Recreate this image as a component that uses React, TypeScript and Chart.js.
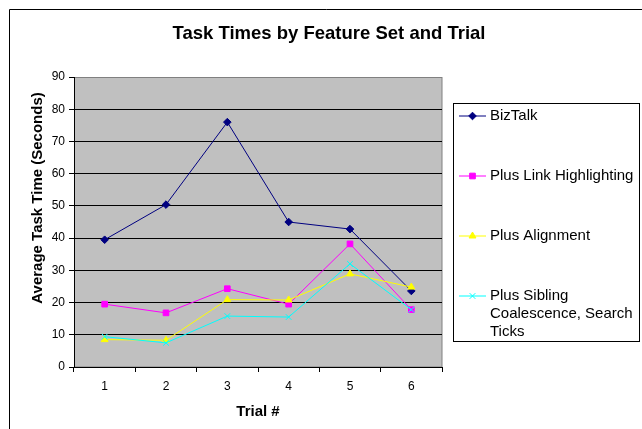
import { useEffect, useRef } from 'react';
import { Chart, registerables } from 'chart.js';
import { drawPoint } from 'chart.js/helpers';

Chart.register(...registerables);

const chartTitle = 'Task Times by Feature Set and Trial';
const yAxisTitle = 'Average Task Time (Seconds)';
const xAxisTitle = 'Trial #';

const trials = ['1', '2', '3', '4', '5', '6'];
const bizTalk = [39.5, 50.4, 76.0, 45.0, 42.8, 23.6];
const linkHighlighting = [19.5, 16.8, 24.3, 19.5, 38.2, 17.8];
const alignment = [8.5, 8.3, 20.9, 20.8, 28.9, 24.8];
const siblingCoalescence = [9.4, 7.5, 15.8, 15.5, 32.0, 17.8];

const seriesNames = [
  'BizTalk',
  'Plus Link Highlighting',
  'Plus Alignment',
  'Plus Sibling Coalescence, Search Ticks',
];
const legendLines = [
  ['BizTalk'],
  ['Plus Link Highlighting'],
  ['Plus Alignment'],
  ['Plus Sibling', 'Coalescence, Search', 'Ticks'],
];

const yMin = 0;
const yMax = 90;
const yStep = 10;

const FONT = '"Liberation Sans", Arial, Helvetica, sans-serif';

const framePlugin = {
  id: 'frame',
  beforeDraw(chart: any) {
    const { ctx, chartArea } = chart;
    ctx.save();
    ctx.fillStyle = '#ffffff';
    ctx.fillRect(0, 0, chart.width, chart.height);
    // outer chart frame
    ctx.strokeStyle = '#000000';
    ctx.lineWidth = 1;
    ctx.beginPath();
    ctx.moveTo(9.5, chart.height + 5);
    ctx.lineTo(9.5, 9.5);
    ctx.lineTo(chart.width + 5, 9.5);
    ctx.stroke();
    // plot area
    ctx.fillStyle = '#c0c0c0';
    ctx.fillRect(chartArea.left, chartArea.top, chartArea.right - chartArea.left, chartArea.bottom - chartArea.top);
    ctx.strokeStyle = '#808080';
    ctx.strokeRect(chartArea.left + 0.5, chartArea.top + 0.5, chartArea.right - chartArea.left - 0.5, chartArea.bottom - chartArea.top - 0.5);
    ctx.restore();
  },
  afterDraw(chart: any) {
    const { ctx } = chart;
    ctx.save();
    ctx.fillStyle = '#000000';
    // chart title
    ctx.font = `bold 18.5px ${FONT}`;
    ctx.textAlign = 'center';
    ctx.textBaseline = 'middle';
    ctx.fillText(chartTitle, 329, 34);
    // y axis title
    ctx.save();
    ctx.translate(38, 198);
    ctx.rotate(-Math.PI / 2);
    ctx.font = `bold 15px ${FONT}`;
    ctx.fillText(yAxisTitle, 0, 0);
    ctx.restore();
    // legend
    const lx = 453.5;
    const ly = 103.5;
    ctx.strokeStyle = '#000000';
    ctx.lineWidth = 1;
    ctx.strokeRect(lx, ly, 186, 238);
    ctx.font = `15px ${FONT}`;
    ctx.textAlign = 'left';
    chart.data.datasets.forEach((ds: any, i: number) => {
      const y = 116 + i * 60;
      ctx.strokeStyle = ds.borderColor;
      ctx.lineWidth = 1;
      ctx.beginPath();
      ctx.moveTo(459, y);
      ctx.lineTo(486, y);
      ctx.stroke();
      ctx.fillStyle = ds.pointBackgroundColor;
      ctx.strokeStyle = ds.pointBorderColor;
      drawPoint(ctx, { pointStyle: ds.pointStyle, radius: ds.pointRadius, rotation: 0, borderWidth: 1 }, 472.5, y);
      ctx.fillStyle = '#000000';
      legendLines[i].forEach((line, j) => {
        ctx.fillText(line, 490, y + j * 18);
      });
    });
    ctx.restore();
  },
};

export default function App() {
  const ref = useRef<HTMLCanvasElement | null>(null);

  useEffect(() => {
    if (!ref.current) return;
    const chart = new Chart(ref.current, {
      type: 'line',
      data: {
        labels: trials,
        datasets: [
          {
            label: seriesNames[0],
            data: bizTalk,
            borderColor: '#000080',
            backgroundColor: '#000080',
            pointBackgroundColor: '#000080',
            pointBorderColor: '#000080',
            pointStyle: 'rectRot',
            pointRadius: 3.8,
            borderWidth: 1,
            pointBorderWidth: 1,
            order: 4,
          },
          {
            label: seriesNames[1],
            data: linkHighlighting,
            borderColor: '#ff00ff',
            backgroundColor: '#ff00ff',
            pointBackgroundColor: '#ff00ff',
            pointBorderColor: '#ff00ff',
            pointStyle: 'rect',
            pointRadius: 4,
            borderWidth: 1,
            pointBorderWidth: 1,
            order: 3,
          },
          {
            label: seriesNames[2],
            data: alignment,
            borderColor: '#ffff00',
            backgroundColor: '#ffff00',
            pointBackgroundColor: '#ffff00',
            pointBorderColor: '#ffff00',
            pointStyle: 'triangle',
            pointRadius: 4,
            borderWidth: 1,
            pointBorderWidth: 1,
            order: 2,
          },
          {
            label: seriesNames[3],
            data: siblingCoalescence,
            borderColor: '#00ffff',
            backgroundColor: '#00ffff',
            pointBackgroundColor: '#00ffff',
            pointBorderColor: '#00ffff',
            pointStyle: 'crossRot',
            pointRadius: 4,
            borderWidth: 1,
            pointBorderWidth: 1,
            order: 1,
          },
        ],
      },
      options: {
        responsive: false,
        animation: false,
        events: [],
        layout: { padding: { left: 0, top: 77, right: 200, bottom: 0 } },
        plugins: {
          legend: { display: false },
          title: { display: false },
          tooltip: { enabled: false },
        },
        elements: { line: { tension: 0 } },
        scales: {
          x: {
            offset: true,
            grid: {
              offset: true,
              drawOnChartArea: false,
              drawTicks: true,
              tickLength: 5,
              color: '#000000',
              tickColor: '#000000',
            },
            border: { color: '#000000', width: 1 },
            ticks: { color: '#000000', font: { family: FONT, size: 12 }, padding: 7, maxRotation: 0 },
            title: {
              display: true,
              text: xAxisTitle,
              color: '#000000',
              font: { family: FONT, size: 15, weight: 'bold' },
              padding: { top: 0, bottom: 8 },
            },
            afterFit(scale: any) {
              scale.height = 62;
            },
          },
          y: {
            min: yMin,
            max: yMax,
            ticks: { stepSize: yStep, color: '#000000', font: { family: FONT, size: 12 }, padding: 4 },
            grid: {
              color: (c: any) => (c.tick && c.tick.value === yMax ? '#808080' : '#000000'),
              tickColor: '#000000',
              tickLength: 5,
              lineWidth: 1,
            },
            border: { color: '#000000', width: 1 },
            afterFit(scale: any) {
              scale.width = 74;
            },
          },
        },
      },
      plugins: [framePlugin],
    });
    return () => chart.destroy();
  }, []);

  return (
    <div style={{ position: 'fixed', left: 0, top: 0, width: 642, height: 429 }}>
      <canvas ref={ref} width={642} height={429} style={{ display: 'block' }} />
    </div>
  );
}
